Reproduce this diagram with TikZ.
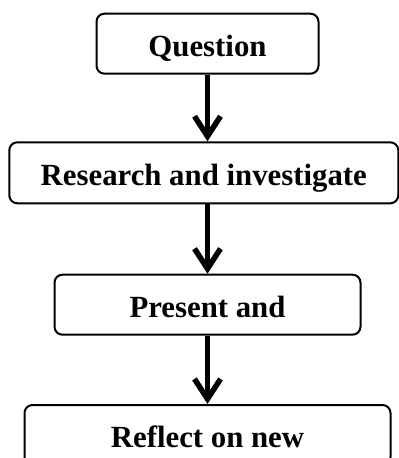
\documentclass[tikz,border=0pt]{standalone}
\usepackage{fontspec}
\setmainfont{Liberation Serif}
\usetikzlibrary{arrows.meta}

\begin{document}
\begin{tikzpicture}[x=1pt, y=-1pt,
    stage/.style={draw, line width=2pt, rounded corners=8pt, minimum height=60pt,
      inner sep=0pt, text height=25pt, text depth=0pt,
      font=\bfseries\fontsize{30.8}{36}\selectfont},
    flow/.style={line width=5.5pt, -{Straight Barb[length=20pt,width=26pt]}}]
    % 図の範囲
    \useasboundingbox (0,0) rectangle (399,458);
    \clip (0,0) rectangle (399,458);

    % 各段階
    \node[stage, minimum width=222pt] (question) at (207.5,43.7) {Question};
    \node[stage, minimum width=389pt, minimum height=61pt] (research) at (203.8,172.8) {Research and investigate};
    \node[stage, minimum width=306pt] (present) at (207.5,304.7) {Present and};
    \node[stage, minimum width=366pt] (reflect) at (207.5,435) {Reflect on new};

    % 矢印
    \draw[flow] (question) -- (question |- research.north);
    \draw[flow] (question |- research.south) -- (present);
    \draw[flow] (present) -- (reflect);
\end{tikzpicture}
\end{document}
